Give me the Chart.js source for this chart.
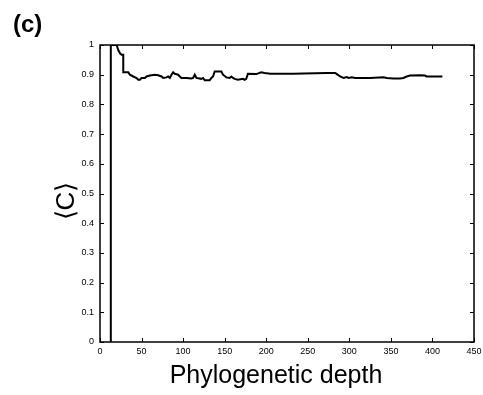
<!DOCTYPE html>
<html>
<head>
<meta charset="utf-8">
<script src="https://cdn.jsdelivr.net/npm/chart.js@4.4.1/dist/chart.umd.min.js"></script>
<style>
  html, body { margin: 0; padding: 0; background: #fff; }
  #wrap { position: relative; width: 483px; height: 395px; }
  #etiqueta { position: absolute; left: 13px; top: 10px; font: bold 24px "Liberation Sans", Arial, sans-serif; color: #000; }
</style>
</head>
<body>
<div id="wrap">
  <canvas id="grafico" width="483" height="395"></canvas>
  <div id="etiqueta">(c)</div>
</div>
<script>
const depth = [13, 13, 20, 22, 24, 26, 28, 28, 34, 36, 40, 44, 46, 48, 50, 54, 56, 60, 66, 70, 74, 76, 80, 82, 84, 86, 88, 90, 94, 96, 98, 104, 110, 112, 114, 116, 122, 124, 126, 132, 134, 136, 138, 146, 148, 152, 156, 158, 160, 162, 166, 172, 174, 176, 178, 188, 194, 198, 205, 233, 245, 273, 283, 285, 289, 293, 297, 299, 303, 307, 325, 341, 345, 353, 361, 365, 369, 373, 385, 391, 393, 412];
const meanC = [0, 1, 1, 0.983, 0.972, 0.967, 0.967, 0.908, 0.908, 0.9, 0.894, 0.889, 0.883, 0.883, 0.889, 0.889, 0.894, 0.897, 0.9, 0.898, 0.894, 0.889, 0.891, 0.894, 0.889, 0.9, 0.908, 0.903, 0.9, 0.894, 0.889, 0.889, 0.887, 0.889, 0.9, 0.889, 0.886, 0.889, 0.881, 0.881, 0.889, 0.894, 0.911, 0.911, 0.9, 0.891, 0.889, 0.894, 0.889, 0.886, 0.883, 0.886, 0.883, 0.886, 0.903, 0.902, 0.908, 0.906, 0.903, 0.903, 0.904, 0.906, 0.906, 0.902, 0.894, 0.889, 0.892, 0.889, 0.891, 0.889, 0.889, 0.891, 0.889, 0.887, 0.887, 0.889, 0.894, 0.897, 0.898, 0.897, 0.894, 0.894];
const xTicks = [0, 50, 100, 150, 200, 250, 300, 350, 400, 450];
const yTicks = [0, 0.1, 0.2, 0.3, 0.4, 0.5, 0.6, 0.7, 0.8, 0.9, 1];
const tituloX = "Phylogenetic depth";
const tituloY = "⟨C⟩";

const fonte = "'Liberation Sans', Arial, sans-serif";

// marcas para dentro nos quatro lados (estilo matlab) + titulos dos eixos
const marcasInternas = {
  id: "marcasInternas",
  afterDraw(chart) {
    const { ctx, chartArea: a, scales } = chart;
    ctx.save();
    ctx.strokeStyle = "#000";
    ctx.lineWidth = 1;
    xTicks.forEach(v => {
      const px = Math.round(scales.x.getPixelForValue(v)) + 0.5;
      ctx.beginPath();
      ctx.moveTo(px, a.bottom); ctx.lineTo(px, a.bottom - 4);
      ctx.moveTo(px, a.top); ctx.lineTo(px, a.top + 4);
      ctx.stroke();
    });
    yTicks.forEach(v => {
      const py = Math.round(scales.y.getPixelForValue(v)) + 0.5;
      ctx.beginPath();
      ctx.moveTo(a.left, py); ctx.lineTo(a.left + 4, py);
      ctx.moveTo(a.right, py); ctx.lineTo(a.right - 4, py);
      ctx.stroke();
    });
    ctx.lineWidth = 1.5;
    ctx.strokeRect(a.left, a.top, a.right - a.left, a.bottom - a.top);

    ctx.fillStyle = "#000";
    ctx.textAlign = "center";
    ctx.textBaseline = "alphabetic";
    ctx.font = "25px " + fonte;
    ctx.fillText(tituloX, 276, 383);

    ctx.translate(67, 201);
    ctx.rotate(-Math.PI / 2);
    ctx.textBaseline = "middle";
    ctx.font = "26px " + fonte;
    ctx.fillText(tituloY, 0, 0);
    ctx.restore();
  }
};

new Chart(document.getElementById("grafico").getContext("2d"), {
  type: "line",
  data: {
    datasets: [{
      data: depth.map((d, i) => ({ x: d, y: meanC[i] })),
      borderColor: "#000",
      borderWidth: 2,
      pointRadius: 0,
      tension: 0,
      fill: false
    }]
  },
  options: {
    responsive: false,
    animation: false,
    layout: { padding: { top: 45, right: 9, left: 0, bottom: 0 } },
    plugins: { legend: { display: false }, tooltip: { enabled: false } },
    scales: {
      x: {
        type: "linear",
        min: 0,
        max: 450,
        afterFit: s => { s.height = 53; s.paddingLeft = 0; s.paddingRight = 0; },
        afterBuildTicks: s => { s.ticks = xTicks.map(v => ({ value: v })); },
        grid: { drawOnChartArea: false, drawTicks: false },
        border: { display: false },
        ticks: { color: "#000", font: { family: fonte, size: 9 }, padding: 4, maxRotation: 0 }
      },
      y: {
        min: 0,
        max: 1,
        afterFit: s => { s.width = 100; s.paddingTop = 0; s.paddingBottom = 0; },
        afterBuildTicks: s => { s.ticks = yTicks.map(v => ({ value: v })); },
        grid: { drawOnChartArea: false, drawTicks: false },
        border: { display: false },
        ticks: { color: "#000", font: { family: fonte, size: 9 }, padding: 6, callback: v => String(Math.round(v * 10) / 10) }
      }
    }
  },
  plugins: [marcasInternas]
});
</script>
</body>
</html>
